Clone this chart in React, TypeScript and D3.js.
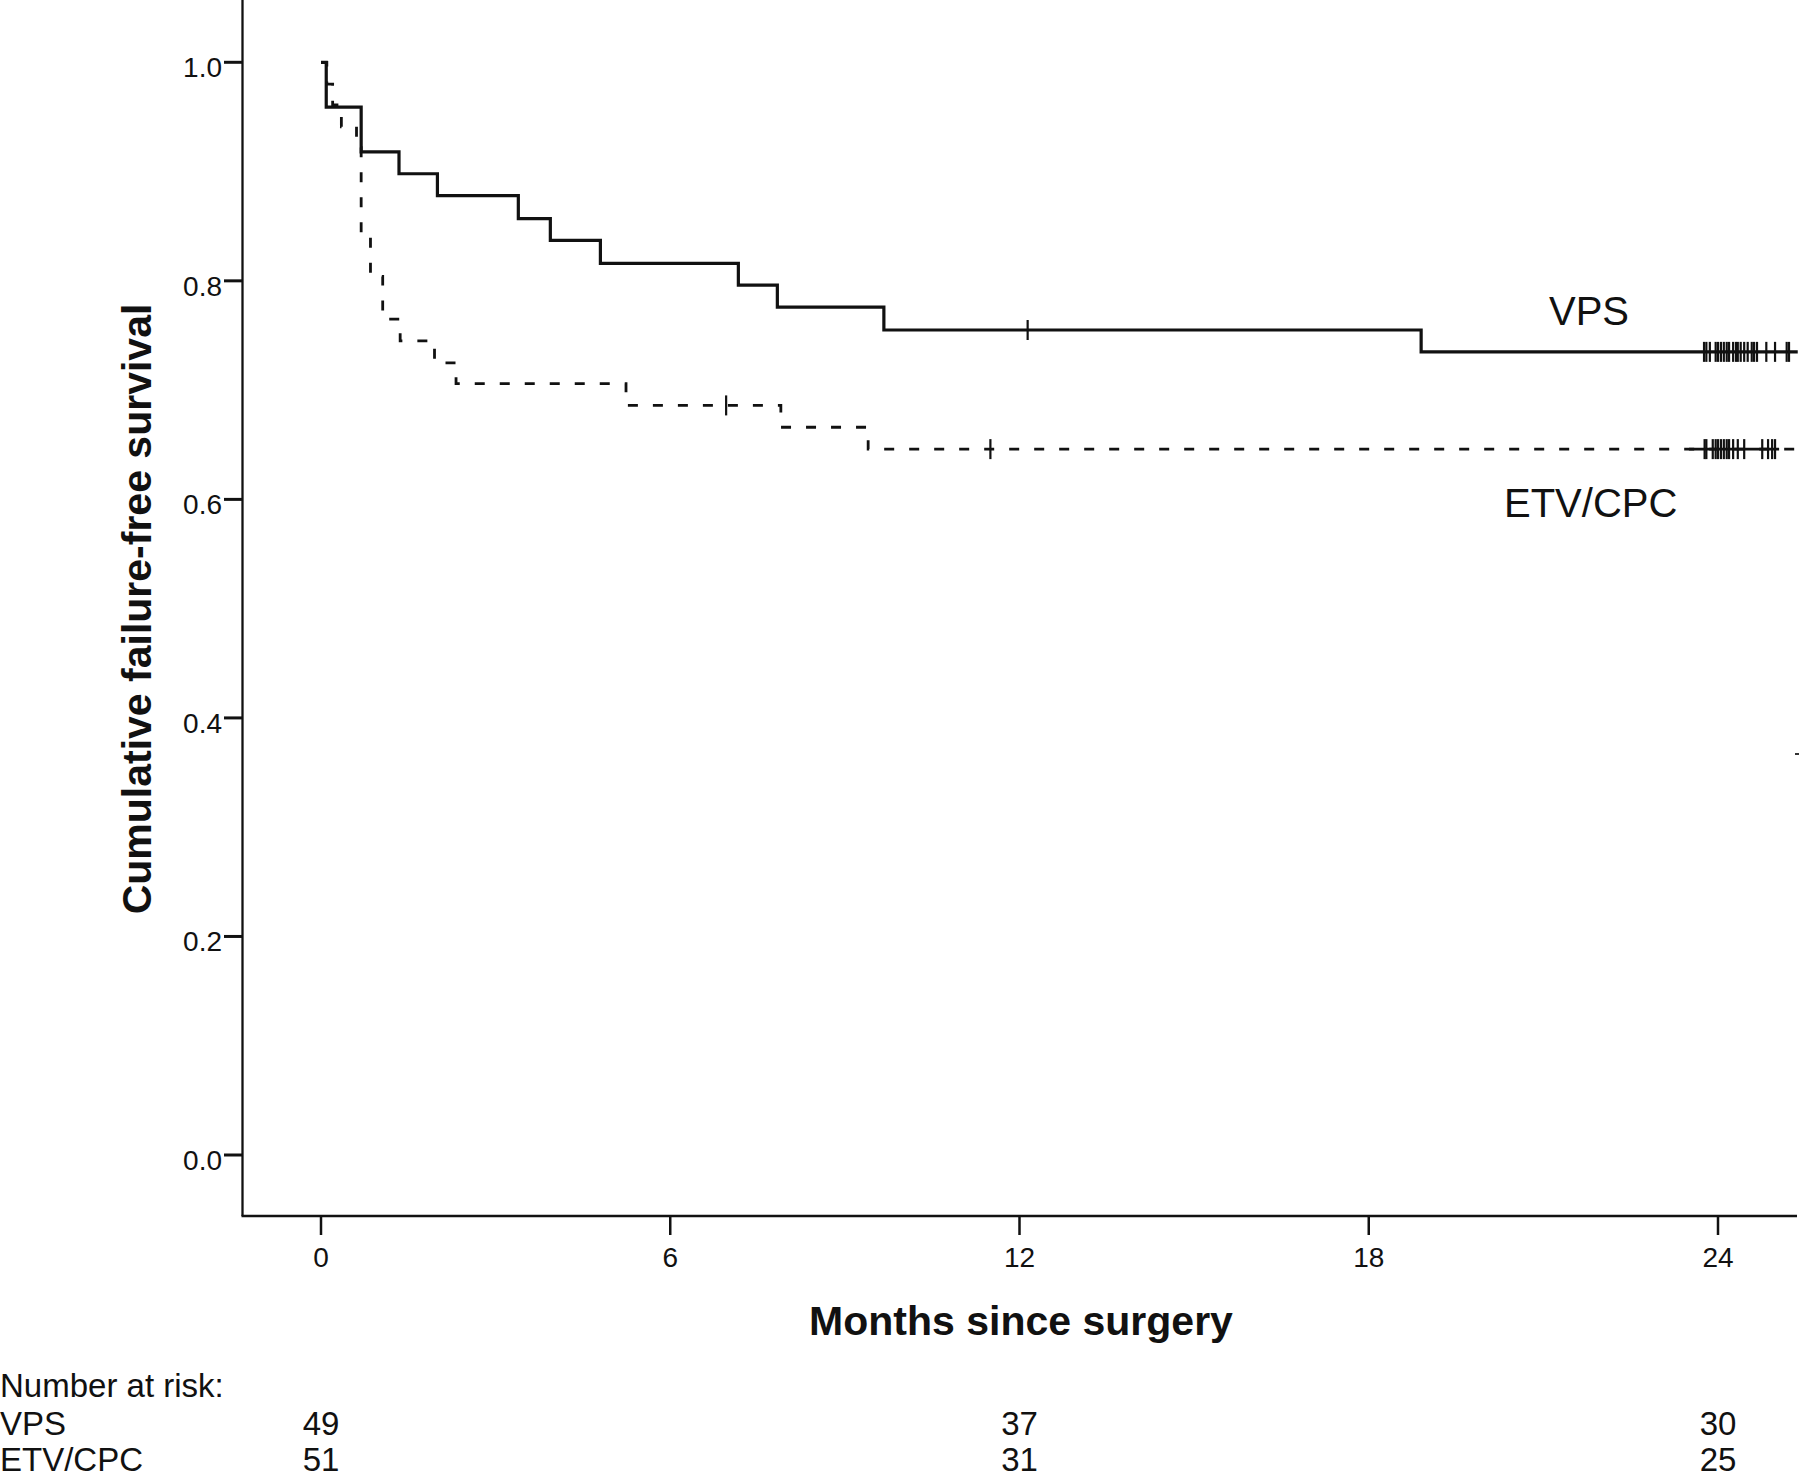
import React from "react";
import * as d3 from "d3";

// ---- data ----
const vpsTimes = [0, 0.09, 0.69, 1.34, 2.0, 3.39, 3.94, 4.8, 7.17, 7.84, 9.67, 18.9];
const vpsSurv = [1.0, 0.959, 0.918, 0.898, 0.878, 0.857, 0.837, 0.816, 0.796, 0.776, 0.755, 0.735];
const vpsCensor = [12.14, 23.76, 23.8, 23.86, 23.96, 24.0, 24.05, 24.1, 24.15, 24.19, 24.26, 24.31, 24.34, 24.39, 24.45, 24.51, 24.58, 24.62, 24.67, 24.83, 24.98, 25.18, 25.22];
const vpsEnd = 25.37;

const etvTimes = [0, 0.1, 0.2, 0.35, 0.61, 0.69, 0.85, 1.06, 1.36, 1.95, 2.32, 5.24, 7.9, 9.4];
const etvSurv = [1.0, 0.98, 0.961, 0.941, 0.922, 0.843, 0.804, 0.765, 0.745, 0.725, 0.706, 0.686, 0.666, 0.646];
const etvCensor = [6.96, 11.5, 23.77, 23.8, 23.91, 23.96, 24.0, 24.05, 24.1, 24.15, 24.19, 24.26, 24.34, 24.45, 24.76, 24.86, 24.93, 24.98];
const etvEnd = 25.37;

const xTicks = [0, 6, 12, 18, 24];
const yTicks = [0, 0.2, 0.4, 0.6, 0.8, 1.0];

const riskTimes = [0, 12, 24];
const riskGroups = ["VPS", "ETV/CPC"];
const riskVps = [49, 37, 30];
const riskEtv = [51, 31, 25];

const FONT = "'Liberation Sans', Arial, Helvetica, sans-serif";

export default function App() {
  const x = d3.scaleLinear().domain([0, 24]).range([321, 1718]);
  const y = d3.scaleLinear().domain([0, 1]).range([1155, 62.3]);
  const axisX = 242.5;
  const axisY = 1216;

  const mk = (times: number[], surv: number[], end: number) => {
    const pts: [number, number][] = times.map((t, i) => [t, surv[i]]);
    pts.push([end, surv[surv.length - 1]]);
    return d3
      .line<[number, number]>()
      .x((d) => x(d[0]))
      .y((d) => y(d[1]))
      .curve(d3.curveStepAfter)(pts) as string;
  };

  const survAt = (times: number[], surv: number[], t: number) => {
    let v = surv[0];
    for (let i = 0; i < times.length; i++) if (times[i] <= t) v = surv[i];
    return v;
  };

  const vpsPath = mk(vpsTimes, vpsSurv, vpsEnd);
  const etvPath = mk(etvTimes, etvSurv, etvEnd);

  const censorH = 10;
  const riskY = [1435, 1471];

  return (
    <svg
      width={1800}
      height={1480}
      style={{ position: "absolute", left: 0, top: 0, background: "#fff" }}
      fontFamily={FONT}
    >
      <rect x={0} y={0} width={1800} height={1480} fill="#fff" />
      {/* axes */}
      <line x1={axisX} y1={0} x2={axisX} y2={axisY} stroke="#111" strokeWidth={2.3} />
      <line x1={axisX - 1} y1={axisY} x2={1797} y2={axisY} stroke="#111" strokeWidth={2.5} />

      {yTicks.map((t) => (
        <g key={"y" + t}>
          <line x1={224} x2={axisX} y1={y(t)} y2={y(t)} stroke="#111" strokeWidth={3} />
          <text x={222} y={y(t) + 15} textAnchor="end" fontSize={28} fill="#111">
            {t.toFixed(1)}
          </text>
        </g>
      ))}
      {xTicks.map((t) => (
        <g key={"x" + t}>
          <line x1={x(t)} x2={x(t)} y1={axisY} y2={axisY + 19} stroke="#111" strokeWidth={2.5} />
          <text x={x(t)} y={1267} textAnchor="middle" fontSize={28} fill="#111">
            {t}
          </text>
        </g>
      ))}

      {/* titles */}
      <text x={1021} y={1335} textAnchor="middle" fontSize={41} fontWeight="bold" fill="#111">
        Months since surgery
      </text>
      <text
        transform={`translate(151,609) rotate(-90)`}
        textAnchor="middle"
        fontSize={41}
        fontWeight="bold"
        fill="#111"
      >
        Cumulative failure-free survival
      </text>

      {/* curves */}
      <path d={vpsPath} fill="none" stroke="#111" strokeWidth={3.2} />
      <path d={etvPath} fill="none" stroke="#111" strokeWidth={2.8} strokeDasharray="10 15" />

      {vpsCensor.map((t, i) => {
        const yy = y(survAt(vpsTimes, vpsSurv, t));
        return <line key={"vc" + i} x1={x(t)} x2={x(t)} y1={yy - censorH} y2={yy + censorH} stroke="#111" strokeWidth={2.2} />;
      })}
      {etvCensor.map((t, i) => {
        const yy = y(survAt(etvTimes, etvSurv, t));
        return <line key={"ec" + i} x1={x(t)} x2={x(t)} y1={yy - censorH} y2={yy + censorH} stroke="#111" strokeWidth={2.2} />;
      })}
      {/* solid stretch where the censor cluster sits on the dashed line */}
      <line x1={x(23.5)} x2={x(25.05)} y1={y(0.646)} y2={y(0.646)} stroke="#111" strokeWidth={2.8} />

      {/* curve labels */}
      <text x={1549} y={325} fontSize={40} fill="#111">VPS</text>
      <text x={1504} y={517} fontSize={40} fill="#111">ETV/CPC</text>

      {/* small artefact at right edge */}
      <line x1={1795} x2={1799} y1={754} y2={754} stroke="#333" strokeWidth={2} />

      {/* number at risk */}
      <text x={0} y={1397} fontSize={33} fill="#111">Number at risk:</text>
      {riskGroups.map((g, gi) => (
        <g key={g}>
          <text x={0} y={riskY[gi]} fontSize={33} fill="#111">{g}</text>
          {(gi === 0 ? riskVps : riskEtv).map((n, i) => (
            <text key={i} x={x(riskTimes[i])} y={riskY[gi]} textAnchor="middle" fontSize={33} fill="#111">
              {n}
            </text>
          ))}
        </g>
      ))}
    </svg>
  );
}
